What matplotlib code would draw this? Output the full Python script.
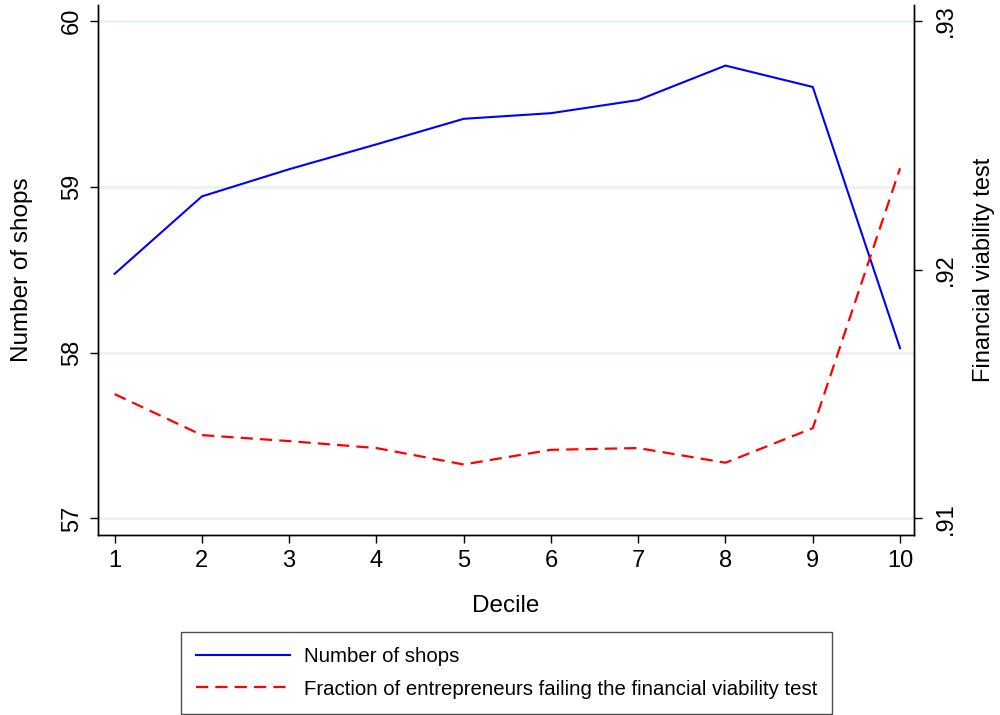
import numpy as np
import matplotlib
matplotlib.use('Agg')
import matplotlib.pyplot as plt

plt.rcParams['font.family'] = ['Liberation Sans', 'DejaVu Sans']

# data
deciles = [1, 2, 3, 4, 5, 6, 7, 8, 9, 10]
num_shops = [58.475, 58.942, 59.106, 59.256, 59.410, 59.444, 59.523, 59.731, 59.602, 58.027]
frac_fail = [0.9150, 0.91335, 0.91311, 0.91283, 0.91217, 0.91276, 0.91283, 0.91224, 0.91363, 0.92408]
left_ticks = [57, 58, 59, 60]
right_ticks = [0.91, 0.92, 0.93]
right_ticklabels = ['.91', '.92', '.93']

fig = plt.figure(figsize=(10, 7.15), dpi=100)
ax = fig.add_axes([0.098, 0.2517, 0.816, 0.741])
ax2 = ax.twinx()

# left axis: number of shops
l1, = ax.plot(deciles, num_shops, color='#0000ff', lw=1.5, label='Number of shops')
ax.set_xlim(0.81, 10.16)
ax.set_ylim(56.9, 60.095)
ax.set_yticks(left_ticks)
ax.set_yticklabels([str(t) for t in left_ticks], rotation=90, va='center')
ax.set_xticks(deciles)
ax.grid(axis='y', color='#eaf2f3', lw=2)
ax.set_axisbelow(True)
ax.set_xlabel('Decile', fontsize=17.5, labelpad=16)
ax.set_ylabel('Number of shops', fontsize=17.5, labelpad=20)

# right axis: fraction failing (same pixel span as 57..60 on the left)
l2, = ax2.plot(deciles, frac_fail, color='#ff0000', lw=1.6, dashes=(5.5, 3.2),
               label='Fraction of entrepreneurs failing the financial viability test')
ax2.set_ylim(0.91 - 0.01 * 0.1 / 1.5, 0.93 + 0.01 * 0.095 / 1.5)
ax2.set_yticks(right_ticks)
ax2.set_yticklabels(right_ticklabels, rotation=90, va='center')
ax2.set_ylabel('Financial viability test', fontsize=17, labelpad=12)

for a in (ax, ax2):
    a.tick_params(labelsize=17, length=6, width=1, direction='out')
    for s in a.spines.values():
        s.set_linewidth(1)
ax.tick_params(axis='y', pad=5)
ax2.tick_params(axis='y', pad=9)
ax.tick_params(axis='x', pad=5)
ax2.spines['top'].set_visible(False)
ax.spines['top'].set_visible(False)

leg = fig.legend(handles=[l1, l2], loc='upper left',
                 bbox_to_anchor=(0.181, 1 - 632 / 715), fontsize=14.7,
                 frameon=True, fancybox=False, handlelength=4.6,
                 handletextpad=0.65, borderpad=0.75, labelspacing=0.65,
                 borderaxespad=0)
leg.get_frame().set_edgecolor('#222222')
leg.get_frame().set_linewidth(1)

fig.savefig('out.png', dpi=100)
